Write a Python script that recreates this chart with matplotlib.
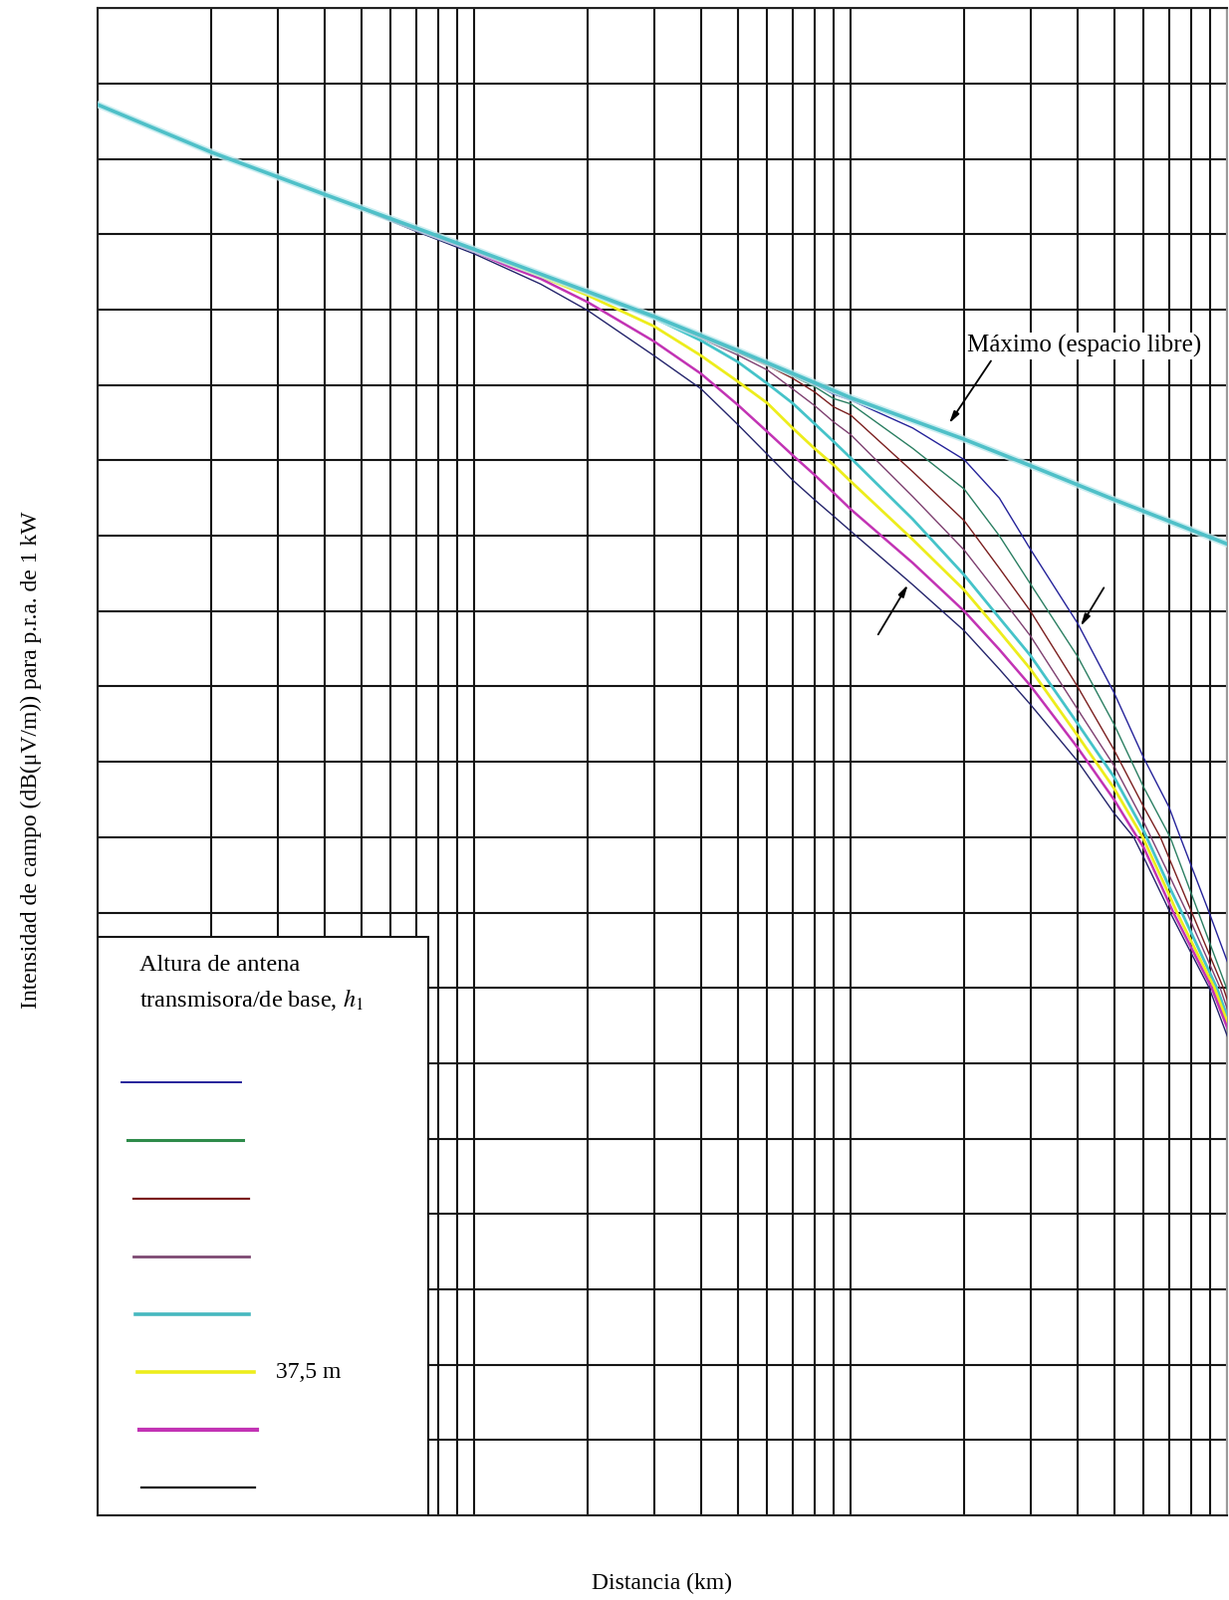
import matplotlib
matplotlib.use('Agg')
import matplotlib.pyplot as plt
from matplotlib.patches import Rectangle
from matplotlib.lines import Line2D

plt.rcParams['font.family'] = ['Liberation Serif', 'DejaVu Serif']
plt.rcParams['mathtext.fontset'] = 'stix'

# ---------------- data ----------------
# free-space (maximum) line
fs_km = [1, 2, 4, 10, 20, 30, 50, 100, 200, 300, 500, 1000]
fs_db = [107.2, 100.9, 95.3, 88.0, 82.4, 79.1, 74.6, 68.3, 62.8, 59.3, 54.8, 48.9]

# shared distances read for the inner part of every curve
base_km = [5, 7, 10, 12.5, 15, 20, 30, 40, 50, 60, 70, 80, 90, 100, 146, 200, 248, 300, 400, 500]

# h1 = 1200 m
d_1200 = base_km + [600, 700, 750, 895, 1000]
e_1200 = [93.5, 90.6, 88.0, 86.0, 84.5, 82.3, 79.0, 76.5, 74.5, 72.9, 71.4, 70.1, 68.8, 68.0, 64.3,
          60.1, 55.0, 48.2, 38.4, 29.2, 20.5, 14.0, 10.0, 0.0, -6.5]
# h1 = 600 m
d_600 = base_km + [600, 705, 838, 1000]
e_600 = [93.5, 90.6, 88.0, 86.0, 84.5, 82.3, 79.0, 76.5, 74.4, 72.8, 71.2, 69.8, 68.2, 67.5, 61.6,
         56.2, 50.0, 43.6, 34.0, 25.0, 16.6, 10.0, 0.0, -10.3]
# h1 = 300 m
d_300 = base_km + [600, 664, 805, 976, 1000]
e_300 = [93.5, 90.6, 88.0, 86.0, 84.5, 82.3, 79.0, 76.4, 74.3, 72.6, 70.9, 69.1, 67.1, 66.0, 58.5,
         52.0, 45.7, 40.0, 30.0, 21.6, 14.0, 10.0, 0.0, -10.0, -11.6]
# h1 = 150 m
d_150 = base_km + [600, 700, 781, 957, 1000]
e_150 = [93.5, 90.6, 88.0, 86.0, 84.5, 82.3, 78.9, 76.2, 74.0, 72.0, 69.5, 67.3, 65.1, 63.4, 55.2,
         48.1, 42.1, 36.7, 27.0, 19.5, 12.0, 5.0, 0.0, -10.0, -12.8]
# h1 = 75 m
d_75 = base_km + [600, 700, 757, 938, 1000]
e_75 = [93.5, 90.6, 88.0, 86.1, 84.5, 82.2, 78.9, 75.9, 73.1, 70.2, 67.6, 64.9, 62.5, 60.3, 52.2,
        44.8, 39.1, 34.1, 25.1, 18.0, 10.8, 3.5, 0.0, -10.0, -13.8]
# h1 = 37.5 m
d_37 = base_km + [596, 700, 735, 924, 1000]
e_37 = [93.5, 90.6, 87.9, 86.0, 84.4, 81.9, 77.8, 73.9, 70.5, 67.6, 64.3, 61.6, 59.4, 57.2, 49.5,
        42.8, 37.3, 32.3, 23.5, 16.5, 10.0, 2.4, 0.0, -10.0, -14.5]
# h1 = 20 m
d_20 = base_km + [576, 600, 719, 909, 1000]
e_20 = [93.5, 90.5, 87.7, 85.6, 84.1, 81.0, 75.8, 71.5, 67.4, 63.8, 60.7, 58.1, 55.7, 53.5, 46.4,
        40.0, 34.9, 30.1, 21.9, 15.0, 10.0, 8.6, 0.0, -10.0, -15.3]
# h1 = 10 m
d_10 = base_km + [564, 600, 705, 895, 1000]
e_10 = [93.4, 90.4, 87.4, 85.2, 83.4, 79.9, 73.9, 69.5, 64.8, 60.8, 57.4, 54.8, 52.6, 50.6, 43.5,
        37.4, 32.3, 27.6, 20.1, 13.2, 10.0, 7.3, 0.0, -10.0, -16.4]

curve_d = [d_1200, d_600, d_300, d_150, d_75, d_37, d_20, d_10]
curve_e = [e_1200, e_600, e_300, e_150, e_75, e_37, e_20, e_10]
legend_labels = ['', '', '', '', '', '37,5 m', '', '']

x_grid = [m * 10 ** k for k in range(3) for m in range(1, 10)] + [1000]
y_grid = list(range(-80, 121, 10))

# ---------------- styles ----------------
curve_colors = ['#25239a', '#2b7f62', '#7b1f1f', '#7d3f70', '#45c3c9', '#eded1c', '#c233b4', '#23236b']
curve_lw = [1.0, 1.0, 1.0, 1.0, 2.0, 2.0, 1.8, 1.0]
legend_colors = ['#25239a', '#2e8b4a', '#7b1f1f', '#7d4a72', '#45b8bf', '#eded1c', '#c233b4', '#111111']
legend_lw = [1.4, 2.2, 1.6, 2.0, 2.6, 2.6, 3.0, 1.6]

W, H = 1234, 1607
L, R, T, B = 98.3, 1232.3, 8.3, 1522.0

fig = plt.figure(figsize=(W / 100, H / 100), dpi=100)
ax = fig.add_axes([L / W, (H - B) / H, (R - L) / W, (B - T) / H])
ax.set_xscale('log')
ax.set_xlim(1, 1000)
ax.set_ylim(-80, 120)
ax.set_xticks(x_grid)
ax.xaxis.set_minor_locator(matplotlib.ticker.NullLocator())
ax.set_yticks(y_grid)
ax.tick_params(length=0, labelbottom=False, labelleft=False)
ax.grid(True, color='#151515', lw=1.5, zorder=1)
ax.set_axisbelow(True)
for s in ax.spines.values():
    s.set_color('#222222')
    s.set_linewidth(1.5)
ax.spines['right'].set_color('#9a9a9a')

for d, e, c, lw in zip(curve_d, curve_e, curve_colors, curve_lw):
    ax.plot(d, e, color=c, lw=lw, zorder=3, solid_joinstyle='round')

ax.plot(fs_km, fs_db, color='#bfeaee', lw=5.0, zorder=3.4, alpha=0.8)
ax.plot(fs_km, fs_db, color='#4fc0c8', lw=2.6, zorder=3.5)

# annotations
arrow_kw = dict(arrowstyle='-|>,head_length=0.7,head_width=0.18', color='black',
                lw=1.3, shrinkA=0, shrinkB=0)
ax.text(203, 75.2, 'Máximo (espacio libre)', fontsize=18, ha='left', va='center',
        bbox=dict(facecolor='white', edgecolor='none', pad=1.5), zorder=6)
ax.annotate('', xy=(182.4, 64.9), xytext=(235.6, 73.2), arrowprops=arrow_kw, zorder=6)
ax.annotate('', xy=(141.8, 43.5), xytext=(118.2, 36.9), arrowprops=arrow_kw, zorder=6)
ax.annotate('', xy=(407.6, 38.0), xytext=(469.9, 43.1), arrowprops=arrow_kw, zorder=6)

# legend box (drawn manually)
def fx(px):
    return (px - L) / (R - L)

def fy(py):
    return (B - py) / (B - T)

ax.add_patch(Rectangle((0, 0), fx(430), fy(941), transform=ax.transAxes,
                       facecolor='white', edgecolor='#151515', lw=1.5, zorder=5))
ax.text(fx(140), fy(988), 'Altura de antena\ntransmisora/de base, $h_1$',
        transform=ax.transAxes, fontsize=17.5, ha='left', va='center',
        linespacing=1.55, zorder=6)
leg_y = [1087, 1145, 1204, 1262, 1320, 1378, 1436, 1494]
leg_x0 = [122, 128, 134, 134, 136, 138, 140, 142]
leg_x1 = [242, 244, 250, 250, 250, 255, 258, 256]
for yy, x0, x1, c, lw, lab in zip(leg_y, leg_x0, leg_x1, legend_colors, legend_lw, legend_labels):
    ax.add_line(Line2D([fx(x0), fx(x1)], [fy(yy), fy(yy)], transform=ax.transAxes,
                       color=c, lw=lw, zorder=6))
    if lab:
        ax.text(fx(277), fy(yy), lab, transform=ax.transAxes, fontsize=17,
                ha='left', va='center', zorder=6)

ax.set_xlabel('Distancia (km)', fontsize=17, va='center')
ax.xaxis.set_label_coords(fx(664), fy(1590))
ax.set_ylabel('Intensidad de campo (dB(μV/m)) para p.r.a. de 1 kW', fontsize=17, va='center')
ax.yaxis.set_label_coords(fx(31), fy(763))

fig.savefig('out.png', dpi=100)
